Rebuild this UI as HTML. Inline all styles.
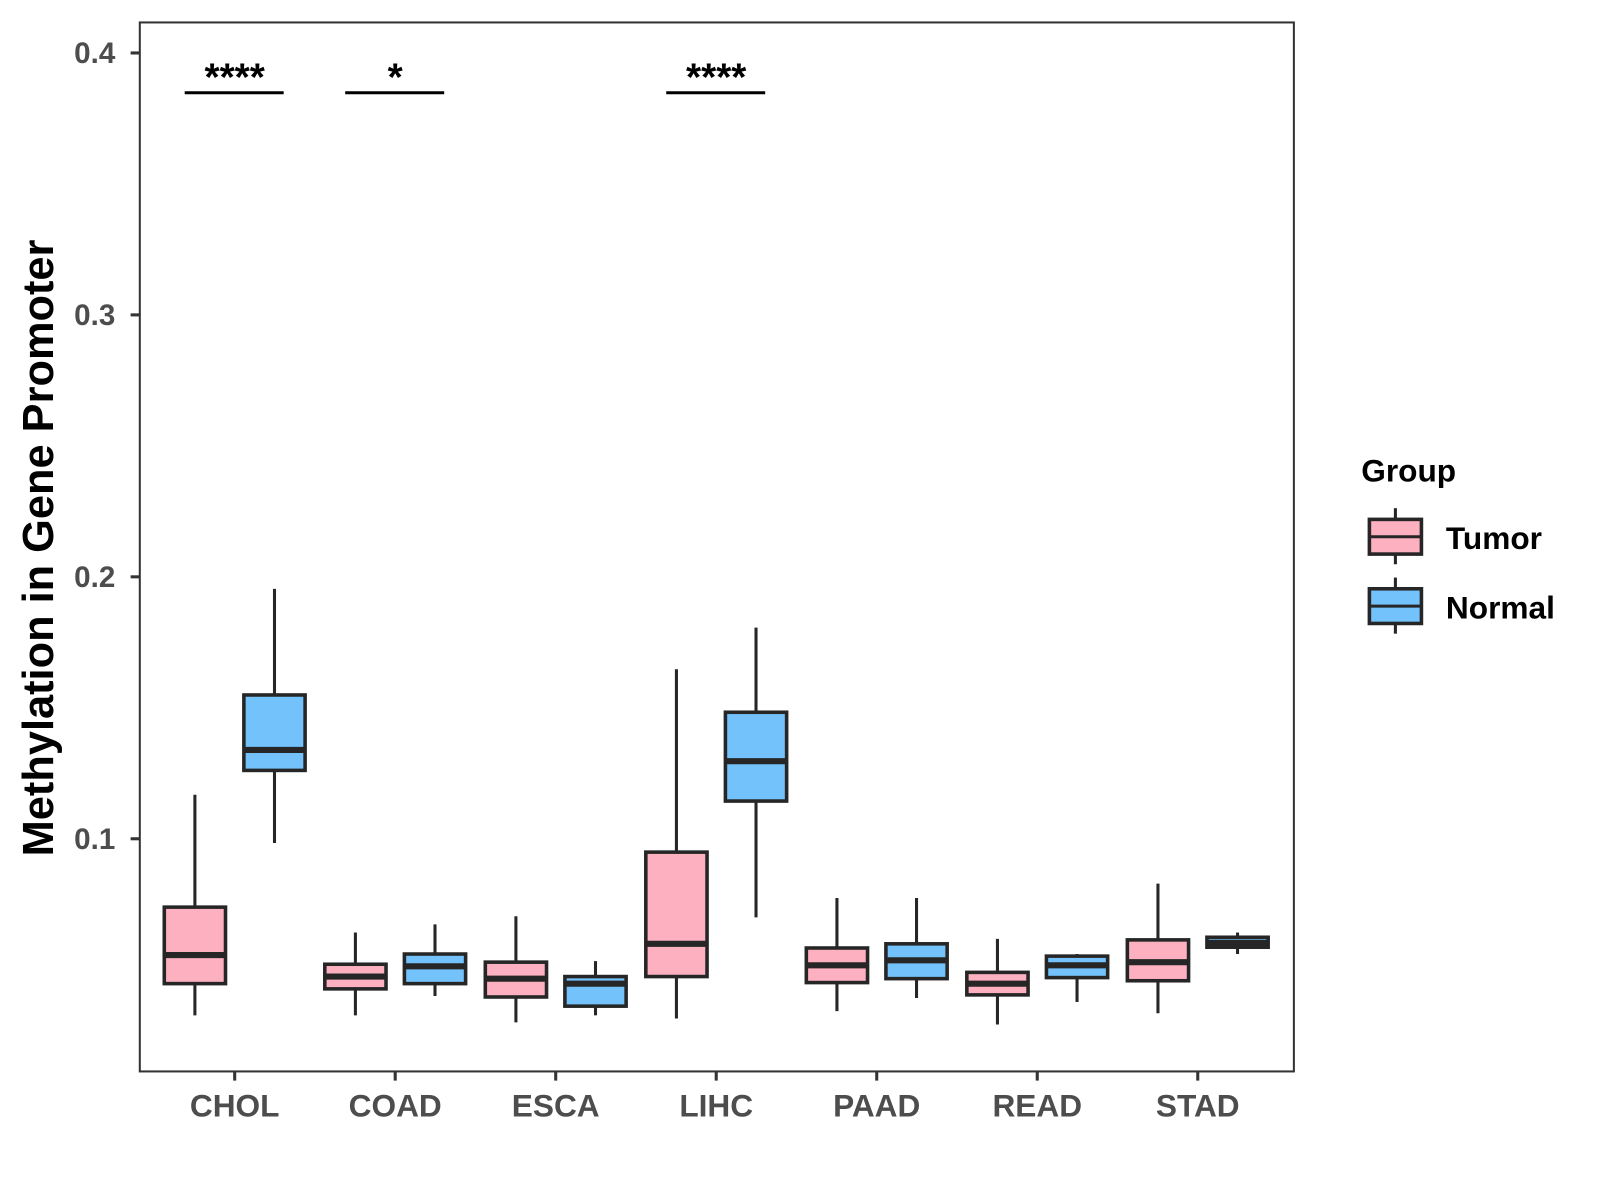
<!DOCTYPE html>
<html><head><meta charset="utf-8"><style>
html,body{margin:0;padding:0;background:#fff;}
svg{display:block;font-family:"Liberation Sans",Arial,sans-serif;}
</style></head><body>
<svg id="chart" width="1600" height="1200" viewBox="0 0 1568 1176" xmlns="http://www.w3.org/2000/svg">
<rect x="0" y="0" width="1568" height="1176" fill="#fff"/>
<g id="marks"></g>
<rect x="137" y="22" width="1131" height="1028" fill="none" stroke="#333" stroke-width="2"/>
<g id="axes"></g>
<text x="38" y="537" transform="rotate(-90 38 537)" text-anchor="middle" dominant-baseline="central" font-size="42.5" font-weight="bold" fill="#000">Methylation in Gene Promoter</text>
<g>
<text x="1334" y="472" font-size="31" font-weight="bold" fill="#000">Group</text>
<g>
<line x1="1367.5" y1="498" x2="1367.5" y2="553" stroke="#262626" stroke-width="3"/>
<rect x="1342" y="509" width="51" height="34" fill="#FDB0C0" stroke="#262626" stroke-width="3.5"/>
<line x1="1342" y1="526" x2="1393" y2="526" stroke="#262626" stroke-width="3"/>
<text x="1417" y="538" font-size="31" font-weight="bold" fill="#000">Tumor</text>
</g>
<g>
<line x1="1367.5" y1="566" x2="1367.5" y2="621" stroke="#262626" stroke-width="3"/>
<rect x="1342" y="577" width="51" height="34" fill="#73C2FB" stroke="#262626" stroke-width="3.5"/>
<line x1="1342" y1="594" x2="1393" y2="594" stroke="#262626" stroke-width="3"/>
<text x="1417" y="606" font-size="31" font-weight="bold" fill="#000">Normal</text>
</g>
</g>
</svg>
<script>
const categories = ["CHOL","COAD","ESCA","LIHC","PAAD","READ","STAD"];
const tumorLow    = [0.0326,0.0326,0.0299,0.0314,0.0342,0.0291,0.0334];
const tumorQ1     = [0.0447,0.0427,0.0396,0.0474,0.0451,0.0404,0.0458];
const tumorMedian = [0.0556,0.0474,0.0466,0.0599,0.0517,0.0447,0.0529];
const tumorQ3     = [0.0739,0.0521,0.0529,0.0949,0.0583,0.0490,0.0614];
const tumorHigh   = [0.1168,0.0642,0.0704,0.1647,0.0774,0.0618,0.0829];
const normalLow    = [0.0984,0.0400,0.0326,0.0700,0.0392,0.0377,0.0560];
const normalQ1     = [0.1261,0.0447,0.0361,0.1144,0.0466,0.0470,0.0586];
const normalMedian = [0.1339,0.0513,0.0447,0.1296,0.0536,0.0517,0.0603];
const normalQ3     = [0.1549,0.0560,0.0474,0.1483,0.0599,0.0552,0.0624];
const normalHigh   = [0.1954,0.0673,0.0533,0.1806,0.0774,0.0560,0.0642];
const yTicks = [0.1,0.2,0.3,0.4];
const yTickLabels = ["0.1","0.2","0.3","0.4"];
const sigCategories = ["CHOL","COAD","LIHC"];
const sigLabels = ["****","*","****"];
const sigLevel = 0.3848;

const NS="http://www.w3.org/2000/svg";
function y(v){ return 822 - (v-0.1)*2567; }
function x(i){ return 230 + i*157.3; }
function mk(tag, attrs, parent){ const e=document.createElementNS(NS,tag); for(const k in attrs) e.setAttribute(k,attrs[k]); parent.appendChild(e); return e; }
const marks=document.getElementById('marks');
const axes=document.getElementById('axes');
const BW=60, OFF=39, LINE="#262626";
function drawBox(cx, lo, q1, med, q3, hi, fill, name){
  const g=mk('g',{},marks);
  
  
  mk('line',{x1:cx,x2:cx,y1:y(lo),y2:y(hi),stroke:LINE,'stroke-width':3},g);
  mk('rect',{x:cx-BW/2,y:y(q3),width:BW,height:y(q1)-y(q3),fill:fill,stroke:LINE,'stroke-width':3.5},g);
  mk('line',{x1:cx-BW/2,x2:cx+BW/2,y1:y(med),y2:y(med),stroke:LINE,'stroke-width':6},g);
}
categories.forEach((c,i)=>{
  drawBox(x(i)-OFF, tumorLow[i], tumorQ1[i], tumorMedian[i], tumorQ3[i], tumorHigh[i], "#FDB0C0", "box-tumor-"+c.toLowerCase());
  drawBox(x(i)+OFF, normalLow[i], normalQ1[i], normalMedian[i], normalQ3[i], normalHigh[i], "#73C2FB", "box-normal-"+c.toLowerCase());
  const t=mk('line',{x1:x(i),x2:x(i),y1:1050,y2:1059,stroke:"#333",'stroke-width':3},axes);
  
  
  const l=mk('text',{x:x(i),y:1094,'text-anchor':'middle','font-size':31,'font-weight':'bold',fill:'#4d4d4d'},axes);
  l.textContent=c;
  
  
});
yTicks.forEach((v,i)=>{
  const t=mk('line',{x1:128,x2:137,y1:y(v),y2:y(v),stroke:"#333",'stroke-width':3},axes);
  
  
  const l=mk('text',{x:113,y:y(v)+10,'text-anchor':'end','font-size':29,'font-weight':'bold',fill:'#4d4d4d'},axes);
  l.textContent=yTickLabels[i];
  
  
});
sigCategories.forEach((c,k)=>{
  const i=categories.indexOf(c);
  const ln=mk('line',{x1:x(i)-49,x2:x(i)+48,y1:y(sigLevel),y2:y(sigLevel),stroke:'#000','stroke-width':3},marks);
  
  
  const s=mk('text',{x:x(i),y:y(sigLevel)-2,'text-anchor':'middle','font-size':38,'font-weight':'bold',fill:'#000'},marks);
  s.textContent=sigLabels[k];
  
  
});
</script>
</body></html>
